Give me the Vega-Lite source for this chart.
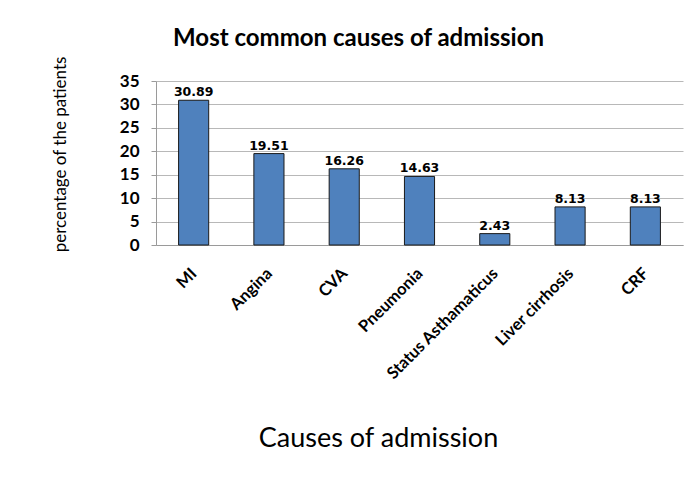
{
  "$schema": "https://vega.github.io/schema/vega-lite/v6.json",
  "autosize": "none",
  "width": 527,
  "height": 164,
  "padding": {"left": 156, "top": 81, "right": 13, "bottom": 232},
  "background": "white",
  "title": {
    "text": "Most common causes of admission",
    "font": "Lato",
    "fontSize": 24,
    "fontWeight": "bold",
    "color": "#000000",
    "anchor": "middle",
    "dx": -61,
    "offset": -14,
    "baseline": "alphabetic"
  },
  "data": {
    "values": [
      {"cause": "MI", "pct": 30.89},
      {"cause": "Angina", "pct": 19.51},
      {"cause": "CVA", "pct": 16.26},
      {"cause": "Pneumonia", "pct": 14.63},
      {"cause": "Status Asthamaticus", "pct": 2.43},
      {"cause": "Liver cirrhosis", "pct": 8.13},
      {"cause": "CRF", "pct": 8.13}
    ]
  },
  "encoding": {
    "x": {
      "field": "cause",
      "type": "nominal",
      "sort": null,
      "scale": {"paddingInner": 0.6, "paddingOuter": 0.3},
      "axis": {
        "title": "Causes of admission",
        "titleFont": "Lato",
        "titleFontSize": 27,
        "titleFontWeight": "normal",
        "titleColor": "#000000",
        "titleX": 222,
        "titleY": 193,
        "titleBaseline": "middle",
        "labelAngle": -45,
        "labelFont": "Lato",
        "labelFontSize": 16.5,
        "labelFontWeight": "bold",
        "labelColor": "#000000",
        "labelPadding": 20,
        "labelOffset": -5,
        "ticks": false,
        "domainColor": "#9a9a9a",
        "grid": false
      }
    },
    "y": {
      "field": "pct",
      "type": "quantitative",
      "scale": {"domain": [0, 35], "nice": false},
      "axis": {
        "values": [0, 5, 10, 15, 20, 25, 30, 35],
        "title": "percentage of the patients",
        "titleFont": "Lato",
        "titleFontSize": 17,
        "titleFontWeight": "normal",
        "titleColor": "#000000",
        "titleX": -96,
        "titleY": 73,
        "titleBaseline": "middle",
        "labelFont": "Lato",
        "labelFontSize": 17,
        "labelFontWeight": "bold",
        "labelColor": "#000000",
        "labelPadding": 12,
        "tickSize": 5,
        "tickColor": "#9a9a9a",
        "domainColor": "#9a9a9a",
        "grid": true,
        "gridColor": "#b8b8b8"
      }
    }
  },
  "layer": [
    {
      "mark": {"type": "bar", "color": "#4F81BD", "stroke": "#1a1a1a", "strokeWidth": 1}
    },
    {
      "mark": {"type": "text", "baseline": "bottom", "dy": -1, "font": "DejaVu Sans", "fontSize": 12.5, "fontWeight": "bold", "color": "#000000"},
      "encoding": {"text": {"field": "pct", "type": "quantitative", "format": ".2f"}}
    }
  ],
  "config": {"view": {"stroke": null}}
}
